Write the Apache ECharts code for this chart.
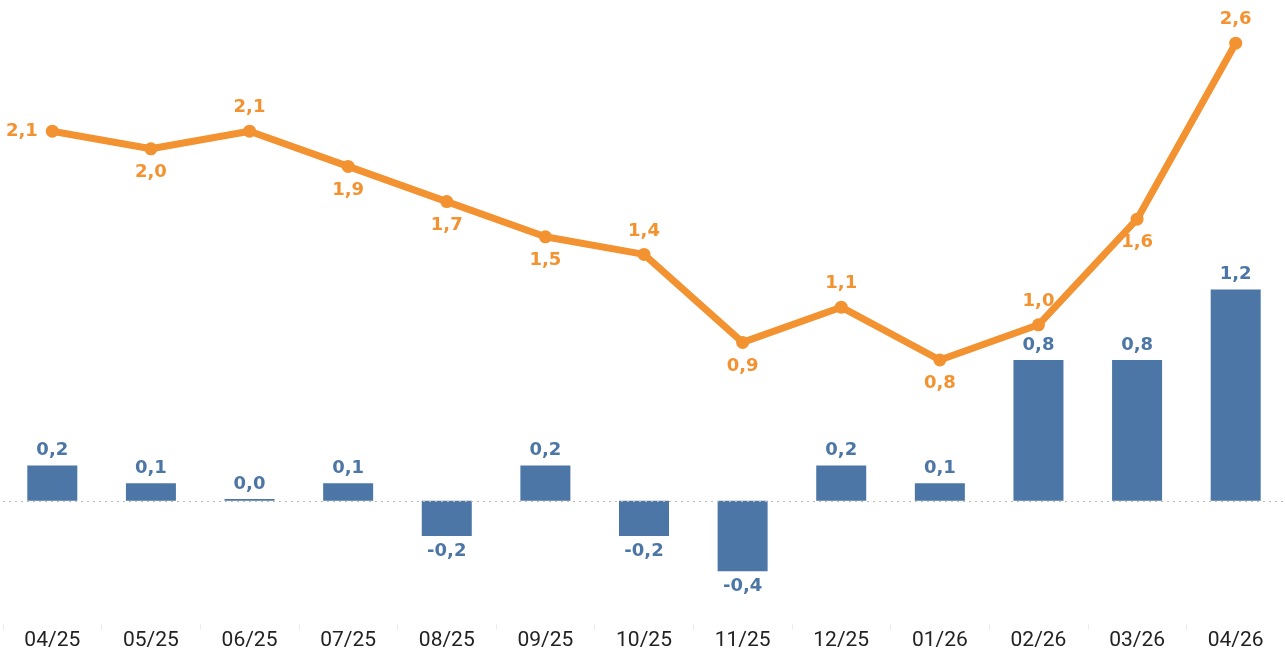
<!DOCTYPE html>
<html><head><meta charset="utf-8">
<script src="https://cdn.jsdelivr.net/npm/echarts@6/dist/echarts.min.js"></script>
<style>html,body{margin:0;padding:0;background:#fff}#c{width:1285px;height:652px}</style>
</head><body><div id="c"></div>
<script>
const categories = ['04/25','05/25','06/25','07/25','08/25','09/25','10/25','11/25','12/25','01/26','02/26','03/26','04/26'];
const barValues = [0.2, 0.1, 0.01, 0.1, -0.2, 0.2, -0.2, -0.4, 0.2, 0.1, 0.8, 0.8, 1.2];
const lineValues = [2.1, 2.0, 2.1, 1.9, 1.7, 1.5, 1.4, 0.9, 1.1, 0.8, 1.0, 1.6, 2.6];
const linePos = ['left','bottom','top','bottom','bottom','bottom','top','bottom','top','bottom','top','bottom','top'];

const fmt = v => (Math.round(v*10)/10).toFixed(1).replace('.', ',');
const BLUE = '#4C76A5', ORANGE = '#F39230';
const LABEL_FONT = '"DejaVu Sans", sans-serif';
const chart = echarts.init(document.getElementById('c'));
chart.setOption({
  animation: false,
  grid: {left: 3, right: 0, top: 8, bottom: 28},
  xAxis: {
    type: 'category', data: categories,
    axisLine: {show: false, onZero: false},
    axisTick: {show: true, lineStyle: {color: '#ececec'}, length: 6},
    axisLabel: {color: '#222', fontSize: 21, fontFamily: 'Roboto', margin: 6}
  },
  yAxis: {type: 'value', min: -0.7, max: 2.8, show: false, splitLine: {show: false}},
  series: [
    {
      type: 'bar', barWidth: 50,
      data: barValues.map(v => ({value: v, label: {position: v < 0 ? 'bottom' : 'top'}})),
      itemStyle: {color: BLUE},
      label: {show: true, color: BLUE, fontWeight: 'bold', fontSize: 18, fontFamily: LABEL_FONT, distance: 6, formatter: p => fmt(p.value)},
      markLine: {silent: true, symbol: 'none', label: {show: false},
        lineStyle: {color: '#bbb', type: [2, 4], width: 1}, data: [{yAxis: 0}]},
      z: 2
    },
    {
      type: 'line', data: lineValues.map((v, i) => ({value: v, label: {position: linePos[i]}})),
      lineStyle: {color: ORANGE, width: 7}, itemStyle: {color: ORANGE},
      symbol: 'circle', symbolSize: 13,
      label: {show: true, color: ORANGE, fontWeight: 'bold', fontSize: 18, fontFamily: LABEL_FONT, distance: 8, formatter: p => fmt(p.value)},
      z: 3
    }
  ]
});
</script></body></html>
